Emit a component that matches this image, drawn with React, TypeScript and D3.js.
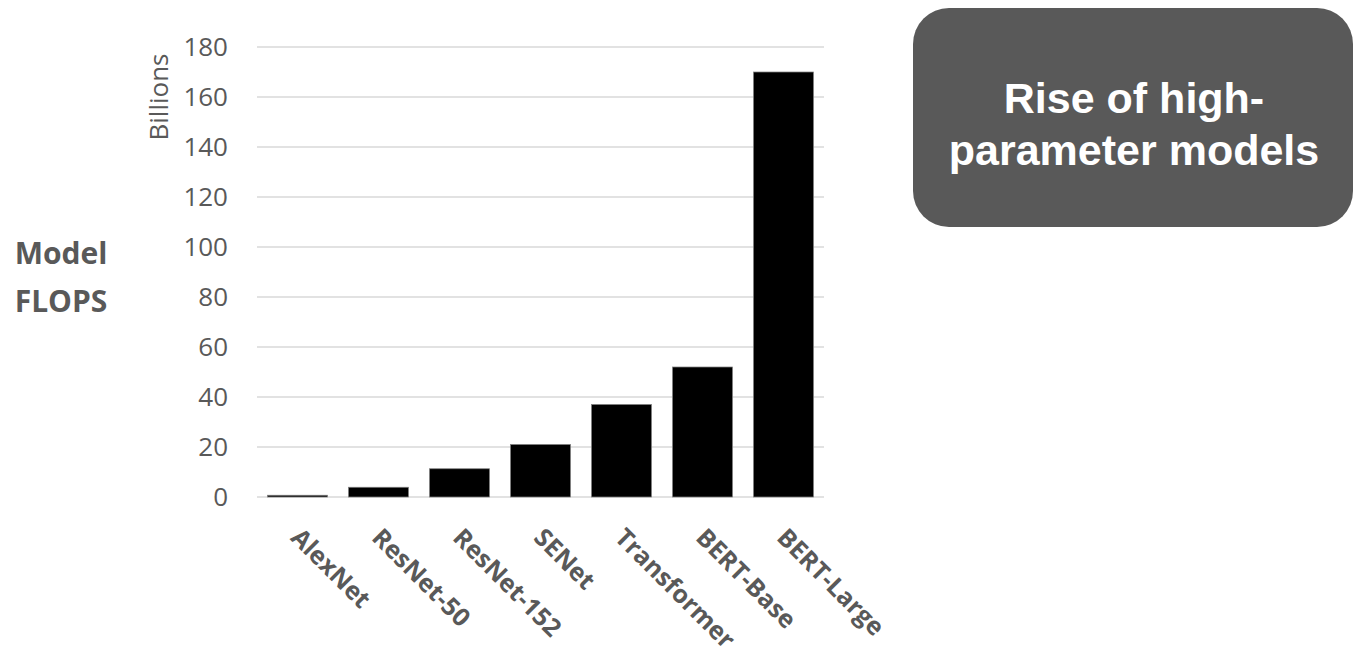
import * as d3 from "d3";
import { useRef, useEffect } from "react";

// model FLOPS, in billions
const models = ["AlexNet", "ResNet-50", "ResNet-152", "SENet", "Transformer", "BERT-Base", "BERT-Large"];
const flops = [0.7, 3.9, 11.3, 21, 37, 52, 170];
const yTicks = [0, 20, 40, 60, 80, 100, 120, 140, 160, 180];
const titleLines = ["Rise of high-", "parameter models"];
const axisTitle = ["Model", "FLOPS"];

const App = () => {
    const chartRef = useRef<SVGSVGElement>(null);

    const width = 1355;
    const height = 655;
    const margin = { top: 47, bottom: 158, left: 257, right: 531 };
    const boundWidth = width - margin.left - margin.right;
    const boundHeight = height - margin.top - margin.bottom;

    useEffect(() => {
        const svg = d3.select(chartRef.current);
        svg.selectAll("*").remove();

        const scaleX = d3.scaleBand()
            .domain(models)
            .range([0, boundWidth])
            .paddingInner(0.26)
            .paddingOuter(0.13);

        const scaleY = d3.scaleLinear()
            .domain([0, 180])
            .range([boundHeight, 0]);

        const g = svg.append("g")
            .attr("transform", `translate(${margin.left}, ${margin.top})`);

        // gridlines
        g.selectAll(".grid")
            .data(yTicks)
            .enter()
            .append("line")
            .attr("class", "grid")
            .attr("x1", 0)
            .attr("x2", boundWidth)
            .attr("y1", d => scaleY(d))
            .attr("y2", d => scaleY(d))
            .style("stroke", "#d9d9d9")
            .style("stroke-width", 1.5);

        // y tick labels
        g.selectAll(".ytick")
            .data(yTicks)
            .enter()
            .append("text")
            .attr("class", "ytick")
            .attr("x", -29)
            .attr("y", d => scaleY(d))
            .attr("dy", "0.36em")
            .attr("text-anchor", "end")
            .style("font-family", "'Open Sans', sans-serif")
            .style("font-size", "26px")
            .style("fill", "#595959")
            .text(d => d);

        // bars
        g.selectAll(".bar")
            .data(models)
            .enter()
            .append("rect")
            .attr("class", "bar")
            .attr("x", d => scaleX(d))
            .attr("y", (d, i) => scaleY(flops[i]))
            .attr("width", scaleX.bandwidth())
            .attr("height", (d, i) => boundHeight - scaleY(flops[i]))
            .style("fill", "#000")
            .style("stroke", "#7f7f7f")
            .style("stroke-width", 0.75);

        // x labels, rotated
        g.selectAll(".xlabel")
            .data(models)
            .enter()
            .append("text")
            .attr("class", "xlabel")
            .attr("transform", d => {
                const x = scaleX(d) + scaleX.bandwidth() / 2 - 8;
                return `translate(${x}, ${boundHeight + 42}) rotate(45)`;
            })
            .attr("text-anchor", "start")
            .style("font-family", "'Open Sans', sans-serif")
            .style("font-weight", "bold")
            .style("font-size", "25px")
            .style("fill", "#595959")
            .text(d => d);

        // units label
        svg.append("text")
            .attr("transform", "translate(168, 97) rotate(-90)")
            .attr("text-anchor", "middle")
            .style("font-family", "'Open Sans', sans-serif")
            .style("font-size", "26px")
            .style("fill", "#595959")
            .text("Billions");

        // axis title
        svg.selectAll(".atitle")
            .data(axisTitle)
            .enter()
            .append("text")
            .attr("class", "atitle")
            .attr("x", 61)
            .attr("y", (d, i) => 264 + i * 48)
            .attr("text-anchor", "middle")
            .style("font-family", "'Open Sans', sans-serif")
            .style("font-weight", "bold")
            .style("font-size", "30px")
            .style("fill", "#595959")
            .text(d => d);

        // callout box
        svg.append("rect")
            .attr("x", 913)
            .attr("y", 8)
            .attr("width", 440)
            .attr("height", 219)
            .attr("rx", 36)
            .style("fill", "#595959");

        svg.selectAll(".title")
            .data(titleLines)
            .enter()
            .append("text")
            .attr("class", "title")
            .attr("x", 1134)
            .attr("y", (d, i) => 113 + i * 52)
            .attr("text-anchor", "middle")
            .style("font-family", "'Liberation Sans', Arial, sans-serif")
            .style("font-weight", "bold")
            .style("font-size", "43px")
            .style("fill", "#fff")
            .text(d => d);
    }, []);

    return (
        <svg ref={chartRef} width={width} height={height}
             style={{ position: "absolute", left: 0, top: 0, background: "#fff" }}></svg>
    );
};

export default App;
